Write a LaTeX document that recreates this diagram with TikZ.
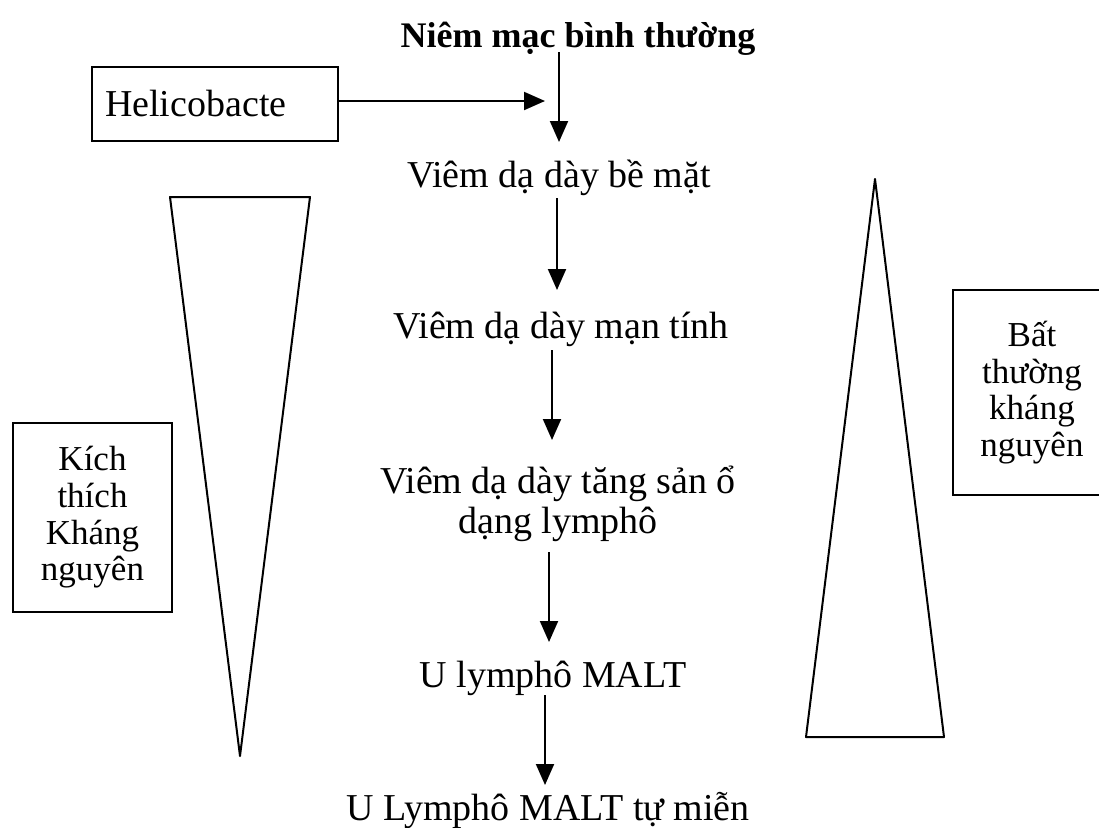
\documentclass[tikz,border=0pt]{standalone}
\usepackage{fontspec}
\setmainfont{Liberation Serif}
\usetikzlibrary{arrows.meta}
\begin{document}
\begin{tikzpicture}[x=1pt,y=-1pt,
  lbl/.style={font=\fontsize{38}{40}\selectfont, inner sep=0pt, anchor=base, align=center},
  sidebox/.style={draw, line width=1.8pt, font=\fontsize{35}{36.7}\selectfont, align=center, inner sep=0pt},
  arr/.style={line width=2pt, -{Triangle[length=21pt,width=18pt]}},
  tri/.style={draw, line width=2pt, line join=round}]
\useasboundingbox[fill=white] (0,0) rectangle (1099,827);

% main chain
\node[lbl, font=\fontsize{36}{40}\selectfont\bfseries] (t0) at (578,47) {Niêm mạc bình thường};
\node[lbl] (t1) at (559,187) {Viêm dạ dày bề mặt};
\node[lbl] (t2) at (561,338) {Viêm dạ dày mạn tính};
\node[lbl] (t3) at (558,533) {Viêm dạ dày tăng sản ổ\\dạng lymphô};
\node[lbl] (t4) at (553,687) {U lymphô MALT};
\node[lbl] (t5) at (548,820) {U Lymphô MALT tự miễn};

% Helicobacte box
\node[sidebox, font=\fontsize{38}{40}\selectfont, minimum height=74pt, text width=220pt,
      inner xsep=13pt, align=left] (hb) at (215,104) {Helicobacte};
\coordinate (hp) at (545,101);
\draw[arr] (hb.east |- hp) -- (hp);

% arrows
\draw[arr] ([xshift=-19pt,yshift=-5pt]t0.base) -- ([yshift=45pt]t1.base);
\draw[arr] ([xshift=-2pt,yshift=-11pt]t1.base) -- ([xshift=-4pt,yshift=48pt]t2.base);
\draw[arr] ([xshift=-9pt,yshift=-12pt]t2.base) -- ([xshift=-6pt,yshift=93pt]t3.base);
\draw[arr] ([xshift=-9pt,yshift=-19pt]t3.base) -- ([xshift=-4pt,yshift=45pt]t4.base);
\draw[arr] ([xshift=-8pt,yshift=-8pt]t4.base) -- ([xshift=-3pt,yshift=35pt]t5.base);

% triangles
\draw[tri] (170,197) -- (310,197) -- (240,756) -- cycle;
\draw[tri] (875,179) -- (944,737) -- (806,737) -- cycle;

% side boxes
\node[sidebox, minimum width=159pt, minimum height=189pt] (kb) at (92.5,517.5)
  {Kích\\thích\\Kháng\\nguyên};
\node[sidebox, minimum width=158pt, minimum height=205pt] (bb) at (1032,392.5)
  {Bất\\thường\\kháng\\nguyên};
\end{tikzpicture}
\end{document}
